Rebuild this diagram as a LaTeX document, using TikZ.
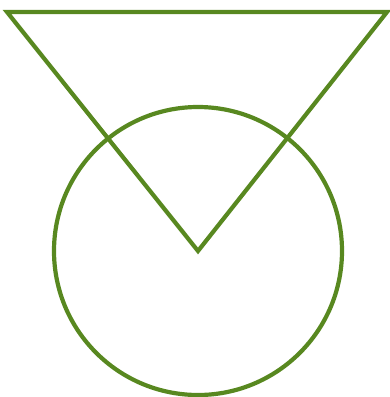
\documentclass[tikz,border=0pt]{standalone}
\definecolor{olivegreen}{RGB}{88,136,32}
\begin{document}
\begin{tikzpicture}[x=1pt,y=-1pt,
  shapeline/.style={draw=olivegreen,line width=4.2pt}]
\useasboundingbox (0,0) rectangle (389,397);
\coordinate (c) at (198,251);
\coordinate (tl) at (7,12);
\coordinate (tr) at (387,12);
\draw[shapeline] (c) circle[radius=144];
\draw[shapeline,line join=miter] (tl) -- (tr) -- (c) -- cycle;
\end{tikzpicture}
\end{document}
